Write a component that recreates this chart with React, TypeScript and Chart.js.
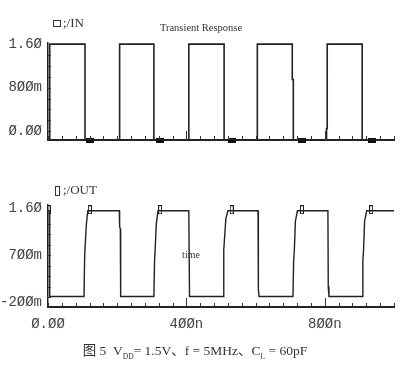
import React, { useEffect, useRef } from "react";
import { Chart, registerables } from "chart.js";
Chart.register(...registerables);

// ---- data ----
const inTimes = [0, 5, 5, 107, 107, 207, 207, 306, 306, 407, 407, 509, 509, 605, 605, 706, 706, 709, 709, 805, 805, 807, 807, 908, 908, 1000];
const inValues = [-0.16, -0.16, 1.6, 1.6, -0.16, -0.16, 1.6, 1.6, -0.16, -0.16, 1.6, 1.6, -0.16, -0.16, 1.6, 1.6, 0.95, 0.95, -0.16, -0.16, 0.05, 0.05, 1.6, 1.6, -0.16, -0.16];

const outTimes = [0, 4, 5, 104, 106, 108, 111, 115, 206, 207, 209, 210, 306, 308, 310, 313, 318, 407, 409, 506, 508, 510, 514, 520, 607, 608, 610, 708, 710, 712, 715, 721, 809, 810, 812, 908, 910, 912, 915, 921, 1000];
const outValues = [1.55, 1.55, -0.09, -0.09, 0.7, 0.95, 1.3, 1.55, 1.55, 1.25, 1.2, -0.09, -0.09, 0.6, 0.85, 1.3, 1.55, 1.55, -0.09, -0.09, 0.8, 1.0, 1.4, 1.55, 1.55, 0.05, -0.09, -0.09, 0.6, 0.8, 1.35, 1.55, 1.55, 0.1, -0.09, -0.09, 0.6, 0.8, 1.35, 1.55, 1.55];

const inMarkerTimes = [122, 325, 532, 735, 935];
const inMarkerValue = -0.16;
const outMarkerTimes = [2, 121, 324, 531, 734, 934];
const outMarkerValue = 1.57;

const xLabelTicks = [0, 400, 800];
const xLabels = ["Ø.ØØ", "4ØØn", "8ØØn"];
const inYTicks = [0, 0.8, 1.6];
const inYLabels = ["Ø.ØØ", "8ØØm", "1.6Ø"];
const outYTicks = [-0.2, 0.7, 1.6];
const outYLabels = ["-2ØØm", "7ØØm", "1.6Ø"];

const xMinor = Array.from({ length: 26 }, (_, i) => i * 40);
const xMajor = [400, 800];
const inYMinor = [0, 0.2, 0.4, 0.6, 0.8, 1.0, 1.2, 1.4];
const outYMinor = [-0.1, 0.1, 0.3, 0.5, 0.7, 0.9, 1.1, 1.3, 1.5];

const LINE = "#222";
const TICK_FONT = { family: '"Liberation Mono", "DejaVu Sans Mono", monospace', size: 14 };

function makeMarker(w: number, h: number, filled: boolean) {
  const c = document.createElement("canvas");
  c.width = w + 1;
  c.height = h + 1;
  const g = c.getContext("2d")!;
  if (filled) {
    g.fillStyle = "#111";
    g.fillRect(0, 0, w + 1, h + 1);
  } else {
    g.strokeStyle = "#222";
    g.lineWidth = 1;
    g.strokeRect(0.5, 0.5, w, h);
  }
  return c;
}

function minorTicksPlugin(yMinor: number[]) {
  return {
    id: "minorTicks",
    afterDraw(chart: any) {
      const { ctx, chartArea } = chart;
      const xs = chart.scales.x;
      const ys = chart.scales.y;
      ctx.save();
      ctx.strokeStyle = "#333";
      ctx.lineWidth = 1;
      ctx.beginPath();
      for (const t of xMinor) {
        const px = Math.round(xs.getPixelForValue(t)) + 0.5;
        ctx.moveTo(px, chartArea.bottom);
        ctx.lineTo(px, chartArea.bottom - (xMajor.includes(t) ? 9 : 4));
      }
      for (const v of yMinor) {
        const py = Math.round(ys.getPixelForValue(v)) + 0.5;
        ctx.moveTo(chartArea.left, py);
        ctx.lineTo(chartArea.left + 3, py);
      }
      ctx.stroke();
      ctx.restore();
    },
  };
}

function buildConfig(opts: {
  times: number[];
  values: number[];
  markerTimes: number[];
  markerValue: number;
  marker: HTMLCanvasElement;
  yMin: number;
  yMax: number;
  yTicks: number[];
  yLabels: string[];
  yMinor: number[];
  padTop: number;
  xHeight: number;
  showX: boolean;
  lineWidth: number;
}) {
  return {
    type: "scatter" as const,
    data: {
      datasets: [
        {
          data: opts.times.map((t, i) => ({ x: t, y: opts.values[i] })),
          showLine: true,
          borderColor: LINE,
          borderWidth: opts.lineWidth,
          pointRadius: 0,
          tension: 0,
        },
        {
          data: opts.markerTimes.map((t) => ({ x: t, y: opts.markerValue })),
          showLine: false,
          pointStyle: opts.marker,
          pointRadius: 4,
          clip: false,
        },
      ],
    },
    options: {
      animation: false,
      responsive: false,
      maintainAspectRatio: false,
      events: [],
      layout: { padding: { top: opts.padTop, right: 6, left: 0, bottom: 0 } },
      plugins: { legend: { display: false }, tooltip: { enabled: false }, title: { display: false } },
      scales: {
        x: {
          type: "linear",
          min: 0,
          max: 1000,
          grid: { display: true, drawOnChartArea: false, drawTicks: false },
          border: { display: true, color: "#222", width: 2 },
          afterBuildTicks: (s: any) => {
            s.ticks = xLabelTicks.map((v) => ({ value: v }));
          },
          afterFit: (s: any) => {
            s.height = opts.xHeight;
          },
          ticks: {
            display: opts.showX,
            autoSkip: false,
            maxRotation: 0,
            padding: 9,
            color: "#444",
            font: TICK_FONT,
            callback: (v: any) => {
              const i = xLabelTicks.indexOf(Number(v));
              return i >= 0 ? xLabels[i] : "";
            },
          },
        },
        y: {
          type: "linear",
          min: opts.yMin,
          max: opts.yMax,
          grid: { display: true, drawOnChartArea: false, drawTicks: false },
          border: { display: true, color: "#222", width: 1.5 },
          afterBuildTicks: (s: any) => {
            s.ticks = opts.yTicks.map((v) => ({ value: v }));
          },
          afterFit: (s: any) => {
            s.width = 48;
          },
          ticks: {
            autoSkip: false,
            padding: 6,
            color: "#444",
            font: TICK_FONT,
            callback: (v: any) => {
              const i = opts.yTicks.findIndex((t) => Math.abs(t - Number(v)) < 1e-6);
              return i >= 0 ? opts.yLabels[i] : "";
            },
          },
        },
      },
    },
    plugins: [minorTicksPlugin(opts.yMinor)],
  };
}

const abs = (extra: React.CSSProperties): React.CSSProperties => ({
  position: "absolute",
  whiteSpace: "nowrap",
  lineHeight: 1,
  ...extra,
});

export default function App() {
  const topRef = useRef<HTMLCanvasElement>(null);
  const botRef = useRef<HTMLCanvasElement>(null);

  useEffect(() => {
    const c1 = new Chart(
      topRef.current!,
      buildConfig({
        times: inTimes,
        values: inValues,
        markerTimes: inMarkerTimes,
        markerValue: inMarkerValue,
        marker: makeMarker(7, 4, true),
        yMin: -0.16,
        yMax: 1.62,
        yTicks: inYTicks,
        yLabels: inYLabels,
        yMinor: inYMinor,
        padTop: 43,
        xHeight: 20,
        showX: false,
        lineWidth: 1.6,
      }) as any
    );
    const c2 = new Chart(
      botRef.current!,
      buildConfig({
        times: outTimes,
        values: outValues,
        markerTimes: outMarkerTimes,
        markerValue: outMarkerValue,
        marker: makeMarker(3, 8, false),
        yMin: -0.29,
        yMax: 1.66,
        yTicks: outYTicks,
        yLabels: outYLabels,
        yMinor: outYMinor,
        padTop: 45,
        xHeight: 33,
        showX: true,
        lineWidth: 1.4,
      }) as any
    );
    return () => {
      c1.destroy();
      c2.destroy();
    };
  }, []);

  const serif = '"Liberation Serif", "DejaVu Serif", serif';

  return (
    <div
      style={{
        position: "fixed",
        left: 0,
        top: 0,
        width: 400,
        height: 374,
        background: "#fff",
        overflow: "hidden",
        fontFamily: serif,
        color: "#333",
      }}
    >
      <canvas ref={topRef} width={400} height={160} style={{ position: "absolute", left: 0, top: 0 }} />
      <canvas ref={botRef} width={400} height={180} style={{ position: "absolute", left: 0, top: 160 }} />

      {/* legend markers and labels */}
      <div style={abs({ left: 53, top: 20, width: 6, height: 5, border: "1px solid #333" })} />
      <div style={abs({ left: 63, top: 16, fontSize: 13, fontFamily: serif })}>;/IN</div>
      <div style={abs({ left: 55, top: 186, width: 3, height: 8, border: "1px solid #333" })} />
      <div style={abs({ left: 63, top: 183, fontSize: 13, fontFamily: serif })}>;/OUT</div>

      <div style={abs({ left: 201, top: 28, transform: "translate(-50%, -50%)", fontSize: 10.5 })}>
        Transient Response
      </div>
      <div style={abs({ left: 191, top: 255, transform: "translate(-50%, -50%)", fontSize: 10 })}>time</div>

      <div
        style={abs({
          left: 195,
          top: 352,
          transform: "translate(-50%, -50%)",
          fontSize: 13.5,
          fontFamily: '"Liberation Serif", "Noto Sans CJK SC", serif',
        })}
      >
        <span style={{ fontFamily: '"Noto Sans CJK SC", serif' }}>图</span> 5&nbsp; V
        <sub style={{ fontSize: 7.5 }}>DD</sub>= 1.5V、f = 5MHz、C<sub style={{ fontSize: 7.5 }}>L</sub> = 60pF
      </div>
    </div>
  );
}
